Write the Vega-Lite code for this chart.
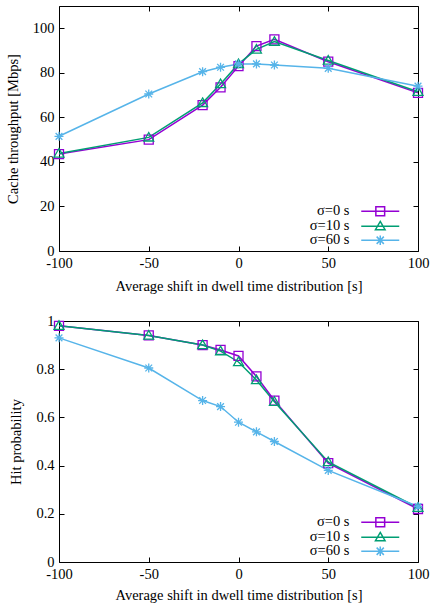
{
  "$schema": "https://vega.github.io/schema/vega-lite/v6.json",
  "padding": {"left": 4, "top": 5, "right": 10, "bottom": 4},
  "background": "white",
  "resolve": {"scale": {"color": "independent"}, "legend": {"color": "independent"}},
  "config": {
    "font": "Liberation Serif",
    "view": {"stroke": "black", "strokeWidth": 1},
    "axis": {"grid": false, "domain": false, "labelFlush": false, "tickColor": "black", "tickSize": -5, "tickWidth": 1, "labelFont": "Liberation Serif", "labelFontSize": 14.5, "labelColor": "black", "titleFont": "Liberation Serif", "titleFontSize": 14.5, "titleFontWeight": "normal", "titleColor": "black", "labelPadding": 10, "labelExpr": "replace(datum.label, '−', '-')"},
    "legend": {"orient": "none", "title": null, "padding": 0, "labelFont": "Liberation Serif", "labelFontSize": 14.5, "labelColor": "black", "labelAlign": "right", "labelOffset": -38, "symbolType": "stroke", "symbolSize": 64, "rowPadding": -3, "symbolStrokeWidth": 1.5}
  },
  "datasets": {
    "thr": [
      {"s": "σ=0 s", "shift": -100, "v": 43.5}, {"s": "σ=0 s", "shift": -50, "v": 50}, {"s": "σ=0 s", "shift": -20, "v": 65.5}, {"s": "σ=0 s", "shift": -10, "v": 73.5}, {"s": "σ=0 s", "shift": 0, "v": 83}, {"s": "σ=0 s", "shift": 10, "v": 92}, {"s": "σ=0 s", "shift": 20, "v": 95}, {"s": "σ=0 s", "shift": 50, "v": 85}, {"s": "σ=0 s", "shift": 100, "v": 71},
      {"s": "σ=10 s", "shift": -100, "v": 43.8}, {"s": "σ=10 s", "shift": -50, "v": 51}, {"s": "σ=10 s", "shift": -20, "v": 66.5}, {"s": "σ=10 s", "shift": -10, "v": 75}, {"s": "σ=10 s", "shift": 0, "v": 84}, {"s": "σ=10 s", "shift": 10, "v": 90.5}, {"s": "σ=10 s", "shift": 20, "v": 94}, {"s": "σ=10 s", "shift": 50, "v": 85.5}, {"s": "σ=10 s", "shift": 100, "v": 71.5},
      {"s": "σ=60 s", "shift": -100, "v": 51.5}, {"s": "σ=60 s", "shift": -50, "v": 70.5}, {"s": "σ=60 s", "shift": -20, "v": 80.5}, {"s": "σ=60 s", "shift": -10, "v": 82.5}, {"s": "σ=60 s", "shift": 0, "v": 84}, {"s": "σ=60 s", "shift": 10, "v": 84}, {"s": "σ=60 s", "shift": 20, "v": 83.5}, {"s": "σ=60 s", "shift": 50, "v": 82}, {"s": "σ=60 s", "shift": 100, "v": 74}
    ],
    "hit": [
      {"s": "σ=0 s", "shift": -100, "v": 0.98}, {"s": "σ=0 s", "shift": -50, "v": 0.94}, {"s": "σ=0 s", "shift": -20, "v": 0.9}, {"s": "σ=0 s", "shift": -10, "v": 0.88}, {"s": "σ=0 s", "shift": 0, "v": 0.855}, {"s": "σ=0 s", "shift": 10, "v": 0.77}, {"s": "σ=0 s", "shift": 20, "v": 0.67}, {"s": "σ=0 s", "shift": 50, "v": 0.41}, {"s": "σ=0 s", "shift": 100, "v": 0.22},
      {"s": "σ=10 s", "shift": -100, "v": 0.98}, {"s": "σ=10 s", "shift": -50, "v": 0.94}, {"s": "σ=10 s", "shift": -20, "v": 0.9}, {"s": "σ=10 s", "shift": -10, "v": 0.875}, {"s": "σ=10 s", "shift": 0, "v": 0.83}, {"s": "σ=10 s", "shift": 10, "v": 0.755}, {"s": "σ=10 s", "shift": 20, "v": 0.665}, {"s": "σ=10 s", "shift": 50, "v": 0.415}, {"s": "σ=10 s", "shift": 100, "v": 0.225},
      {"s": "σ=60 s", "shift": -100, "v": 0.93}, {"s": "σ=60 s", "shift": -50, "v": 0.805}, {"s": "σ=60 s", "shift": -20, "v": 0.67}, {"s": "σ=60 s", "shift": -10, "v": 0.645}, {"s": "σ=60 s", "shift": 0, "v": 0.58}, {"s": "σ=60 s", "shift": 10, "v": 0.54}, {"s": "σ=60 s", "shift": 20, "v": 0.5}, {"s": "σ=60 s", "shift": 50, "v": 0.38}, {"s": "σ=60 s", "shift": 100, "v": 0.23}
    ]
  },
  "vconcat": [
    {
      "width": 359, "height": 245,
      "data": {"name": "thr"},
      "resolve": {"axis": {"x": "independent", "y": "independent"}},
      "layer": [
        {
          "mark": {"type": "line", "strokeWidth": 1.5},
          "encoding": {
            "x": {"field": "shift", "type": "quantitative", "scale": {"domain": [-100, 100], "nice": false}, "axis": {"values": [-100, -50, 0, 50, 100], "title": "Average shift in dwell time distribution [s]", "titlePadding": 10}},
            "y": {"field": "v", "type": "quantitative", "scale": {"domain": [0, 110], "nice": false}, "axis": {"values": [0, 20, 40, 60, 80, 100], "title": "Cache throughput [Mbps]", "titlePadding": 12}},
            "color": {"field": "s", "type": "nominal", "scale": {"domain": ["σ=0 s", "σ=10 s", "σ=60 s"], "range": ["#9400D3", "#009E73", "#56B4E9"]},
              "legend": {"legendX": 314, "legendY": 198, "encode": {"symbols": {"update": {"shape": {"signal": "datum.value == 'σ=0 s' ? 'M-4.75,0H4.75M-1.1,-1.1H1.1V1.1H-1.1Z' : datum.value == 'σ=10 s' ? 'M-4.75,0H4.75M0,-1.2L1.2,0.85H-1.2Z' : 'M-4.75,0H4.75M0,-1.2V1.2M-0.9,-0.9L0.9,0.9M-0.9,0.9L0.9,-0.9'"}, "fill": {"value": "transparent"}, "strokeWidth": {"value": 1.5}}}}}}
          }
        },
        {
          "transform": [{"filter": "datum.s == 'σ=0 s'"}],
          "mark": {"type": "point", "filled": false, "strokeWidth": 1.3, "size": 81, "opacity": 1, "color": "#9400D3", "shape": "M-1,-1H1V1H-1Z"},
          "encoding": {
            "x": {"field": "shift", "type": "quantitative", "axis": {"orient": "top", "values": [-100, -50, 0, 50, 100], "labels": false, "title": null}},
            "y": {"field": "v", "type": "quantitative", "axis": {"orient": "right", "values": [0, 20, 40, 60, 80, 100], "labels": false, "title": null}}
          }
        },
        {
          "transform": [{"filter": "datum.s == 'σ=10 s'"}],
          "mark": {"type": "point", "filled": false, "strokeWidth": 1.3, "size": 81, "opacity": 1, "color": "#009E73", "shape": "M0,-1.1L1.1,0.8H-1.1Z"},
          "encoding": {
            "x": {"field": "shift", "type": "quantitative", "axis": null},
            "y": {"field": "v", "type": "quantitative", "axis": null}
          }
        },
        {
          "transform": [{"filter": "datum.s == 'σ=60 s'"}],
          "mark": {"type": "point", "filled": false, "strokeWidth": 1.3, "size": 81, "opacity": 1, "color": "#56B4E9", "shape": "M-1,0H1M0,-1V1M-0.75,-0.75L0.75,0.75M-0.75,0.75L0.75,-0.75"},
          "encoding": {
            "x": {"field": "shift", "type": "quantitative", "axis": null},
            "y": {"field": "v", "type": "quantitative", "axis": null}
          }
        }
      ]
    },
    {
      "width": 359, "height": 241,
      "data": {"name": "hit"},
      "resolve": {"axis": {"x": "independent", "y": "independent"}},
      "layer": [
        {
          "mark": {"type": "line", "strokeWidth": 1.5},
          "encoding": {
            "x": {"field": "shift", "type": "quantitative", "scale": {"domain": [-100, 100], "nice": false}, "axis": {"values": [-100, -50, 0, 50, 100], "title": "Average shift in dwell time distribution [s]", "titlePadding": 8}},
            "y": {"field": "v", "type": "quantitative", "scale": {"domain": [0, 1], "nice": false}, "axis": {"values": [0, 0.2, 0.4, 0.6, 0.8, 1], "format": "~g", "title": "Hit probability", "titlePadding": 12}},
            "color": {"field": "s", "type": "nominal", "scale": {"domain": ["σ=0 s", "σ=10 s", "σ=60 s"], "range": ["#9400D3", "#009E73", "#56B4E9"]},
              "legend": {"legendX": 314, "legendY": 194, "encode": {"symbols": {"update": {"shape": {"signal": "datum.value == 'σ=0 s' ? 'M-4.75,0H4.75M-1.1,-1.1H1.1V1.1H-1.1Z' : datum.value == 'σ=10 s' ? 'M-4.75,0H4.75M0,-1.2L1.2,0.85H-1.2Z' : 'M-4.75,0H4.75M0,-1.2V1.2M-0.9,-0.9L0.9,0.9M-0.9,0.9L0.9,-0.9'"}, "fill": {"value": "transparent"}, "strokeWidth": {"value": 1.5}}}}}}
          }
        },
        {
          "transform": [{"filter": "datum.s == 'σ=0 s'"}],
          "mark": {"type": "point", "filled": false, "strokeWidth": 1.3, "size": 81, "opacity": 1, "color": "#9400D3", "shape": "M-1,-1H1V1H-1Z"},
          "encoding": {
            "x": {"field": "shift", "type": "quantitative", "axis": {"orient": "top", "values": [-100, -50, 0, 50, 100], "labels": false, "title": null}},
            "y": {"field": "v", "type": "quantitative", "axis": {"orient": "right", "values": [0, 0.2, 0.4, 0.6, 0.8, 1], "labels": false, "title": null}}
          }
        },
        {
          "transform": [{"filter": "datum.s == 'σ=10 s'"}],
          "mark": {"type": "point", "filled": false, "strokeWidth": 1.3, "size": 81, "opacity": 1, "color": "#009E73", "shape": "M0,-1.1L1.1,0.8H-1.1Z"},
          "encoding": {
            "x": {"field": "shift", "type": "quantitative", "axis": null},
            "y": {"field": "v", "type": "quantitative", "axis": null}
          }
        },
        {
          "transform": [{"filter": "datum.s == 'σ=60 s'"}],
          "mark": {"type": "point", "filled": false, "strokeWidth": 1.3, "size": 81, "opacity": 1, "color": "#56B4E9", "shape": "M-1,0H1M0,-1V1M-0.75,-0.75L0.75,0.75M-0.75,0.75L0.75,-0.75"},
          "encoding": {
            "x": {"field": "shift", "type": "quantitative", "axis": null},
            "y": {"field": "v", "type": "quantitative", "axis": null}
          }
        }
      ]
    }
  ],
  "spacing": 18
}
